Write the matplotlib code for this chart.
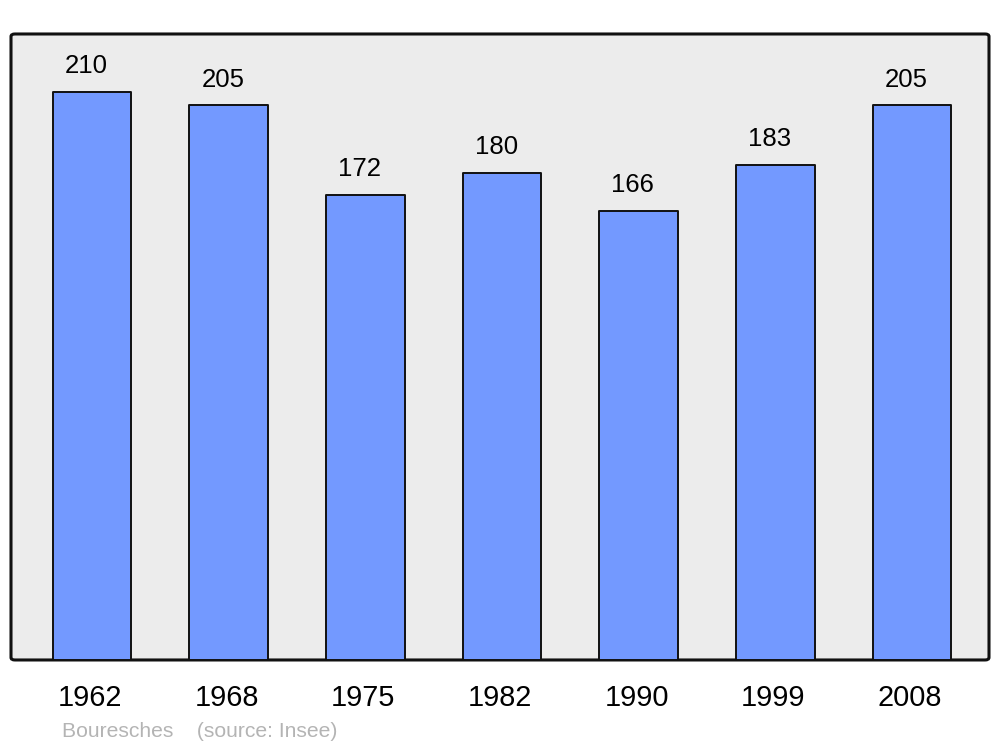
import matplotlib
matplotlib.use("Agg")
import matplotlib.pyplot as plt
import matplotlib.transforms as mtransforms
from matplotlib.patches import FancyBboxPatch

years = ["1962", "1968", "1975", "1982", "1990", "1999", "2008"]
population = [210, 205, 172, 180, 166, 183, 205]

plt.rcParams['font.family'] = ['Liberation Sans', 'DejaVu Sans']

fig = plt.figure(figsize=(10, 7.47), dpi=100)
ax = fig.add_axes([0.011, 0.1165, 0.978, 0.838])
ax.set_facecolor("none")

# rounded grey frame
frame = FancyBboxPatch((0, 0), 1, 1, boxstyle="round,pad=0,rounding_size=0.004",
                       transform=ax.transAxes, facecolor="#ececec",
                       edgecolor="#111111", linewidth=2.2, zorder=0, clip_on=False)
ax.add_patch(frame)

x = list(range(len(years)))
bars = ax.bar(x, population, width=0.575, color="#7399ff", edgecolor="#111111",
              linewidth=1.4, zorder=2)
for b in bars:
    b.set_joinstyle("round")

for xi, v in zip(x, population):
    ax.annotate(str(v), (xi, v), xytext=(-4.2, 10), textcoords="offset points",
                ha="center", va="bottom", fontsize=18.5, color="black")

ax.set_xlim(-0.593, 6.563)
ax.set_ylim(0, 231.4)
ax.set_xticks(x)
ax.set_xticklabels(years, fontsize=20.8)
ax.tick_params(axis="x", length=0, pad=17)
shift = mtransforms.ScaledTranslation(-2 / 100, 0, fig.dpi_scale_trans)
for lbl in ax.get_xticklabels():
    lbl.set_transform(lbl.get_transform() + shift)
ax.set_yticks([])
for s in ax.spines.values():
    s.set_visible(False)

fig.text(0.062, 0.0135, "Bouresches    (source: Insee)", fontsize=15.2,
         color="#b4b4b4", ha="left", va="baseline")

fig.savefig("out.png", dpi=100)
